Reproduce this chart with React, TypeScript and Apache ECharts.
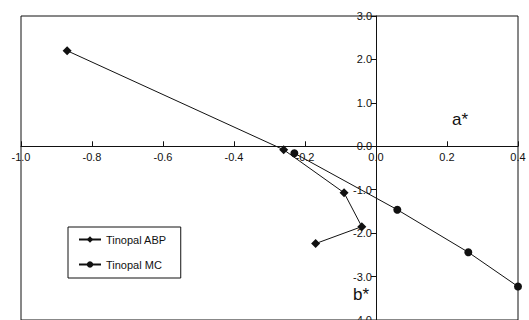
import React, { useEffect, useRef } from "react";
import * as echarts from "echarts";

const abpX = [-0.87, -0.26, -0.09, -0.04, -0.17];
const abpY = [2.2, -0.08, -1.07, -1.85, -2.24];
const mcX = [-0.23, 0.06, 0.26, 0.4];
const mcY = [-0.16, -1.46, -2.44, -3.23];
const seriesNames = ["Tinopal ABP", "Tinopal MC"];

const FONT = "Liberation Sans, Arial, sans-serif";

const GRID_LEFT = 21;
const GRID_RIGHT = 11;
const GRID_TOP = 16;
const GRID_BOTTOM = 0;
const W = 529;
const H = 320;
const X_MIN = -1.0;
const X_MAX = 0.4;
const Y_MIN = -4;
const Y_MAX = 3;

export default function App() {
  const ref = useRef<HTMLDivElement>(null);
  useEffect(() => {
    if (!ref.current) return;
    const chart = echarts.init(ref.current, undefined, { renderer: "svg" });
    const fmt = (v: number) => v.toFixed(1);
    const gw = W - GRID_LEFT - GRID_RIGHT;
    const gh = H - GRID_TOP - GRID_BOTTOM;
    // distance of the zero lines from the grid's bottom / left edges
    const xAxisOffset = -((0 - Y_MIN) / (Y_MAX - Y_MIN)) * gh;
    const yAxisOffset = -((0 - X_MIN) / (X_MAX - X_MIN)) * gw;
    chart.setOption({
      animation: false,
      backgroundColor: "#fff",
      grid: {
        left: GRID_LEFT,
        right: GRID_RIGHT,
        top: GRID_TOP,
        bottom: GRID_BOTTOM,
        outerBoundsMode: "none",
        containLabel: false,
        show: true,
        borderColor: "#111",
        borderWidth: 1,
      },
      legend: {
        data: seriesNames,
        orient: "vertical",
        left: 68,
        top: 227,
        width: 111,
        padding: [7, 14, 8, 10],
        itemGap: 14,
        itemWidth: 22,
        itemHeight: 8,
        borderColor: "#111",
        borderWidth: 1,
        backgroundColor: "#fff",
        textStyle: { fontFamily: FONT, fontSize: 11, color: "#111" },
      },
      xAxis: {
        type: "value",
        min: X_MIN,
        max: X_MAX,
        interval: 0.2,
        position: "bottom",
        offset: xAxisOffset,
        splitLine: { show: false },
        axisLine: { onZero: false, lineStyle: { color: "#111", width: 1 } },
        axisTick: { show: true, inside: true, length: 5, lineStyle: { color: "#111" } },
        axisLabel: {
          formatter: fmt,
          fontFamily: FONT,
          fontSize: 11,
          color: "#111",
          margin: 5,
          showMinLabel: true,
          showMaxLabel: true,
        },
      },
      yAxis: {
        type: "value",
        min: Y_MIN,
        max: Y_MAX,
        interval: 1,
        position: "left",
        offset: yAxisOffset,
        splitLine: { show: false },
        axisLine: { onZero: false, lineStyle: { color: "#111", width: 1 } },
        axisTick: { show: true, length: 5, lineStyle: { color: "#111" } },
        axisLabel: {
          formatter: fmt,
          fontFamily: FONT,
          fontSize: 11,
          color: "#111",
          margin: 4,
          showMinLabel: true,
          showMaxLabel: true,
        },
      },
      graphic: [
        {
          type: "text",
          left: 452,
          top: 111,
          style: { text: "a*", font: `17px ${FONT}`, fill: "#111" },
        },
        {
          type: "text",
          left: 353,
          top: 286,
          style: { text: "b*", font: `17px ${FONT}`, fill: "#111" },
        },
      ],
      series: [
        {
          name: seriesNames[0],
          type: "line",
          data: abpX.map((x, i) => [x, abpY[i]]),
          symbol: "diamond",
          symbolSize: 9,
          color: "#111",
          lineStyle: { color: "#111", width: 1 },
          itemStyle: { color: "#111" },
        },
        {
          name: seriesNames[1],
          type: "line",
          data: mcX.map((x, i) => [x, mcY[i]]),
          symbol: "circle",
          symbolSize: 8,
          color: "#111",
          lineStyle: { color: "#111", width: 1 },
          itemStyle: { color: "#111" },
        },
      ],
    });
    return () => chart.dispose();
  }, []);
  return <div ref={ref} style={{ width: W, height: H, position: "absolute", left: 0, top: 0 }} />;
}
